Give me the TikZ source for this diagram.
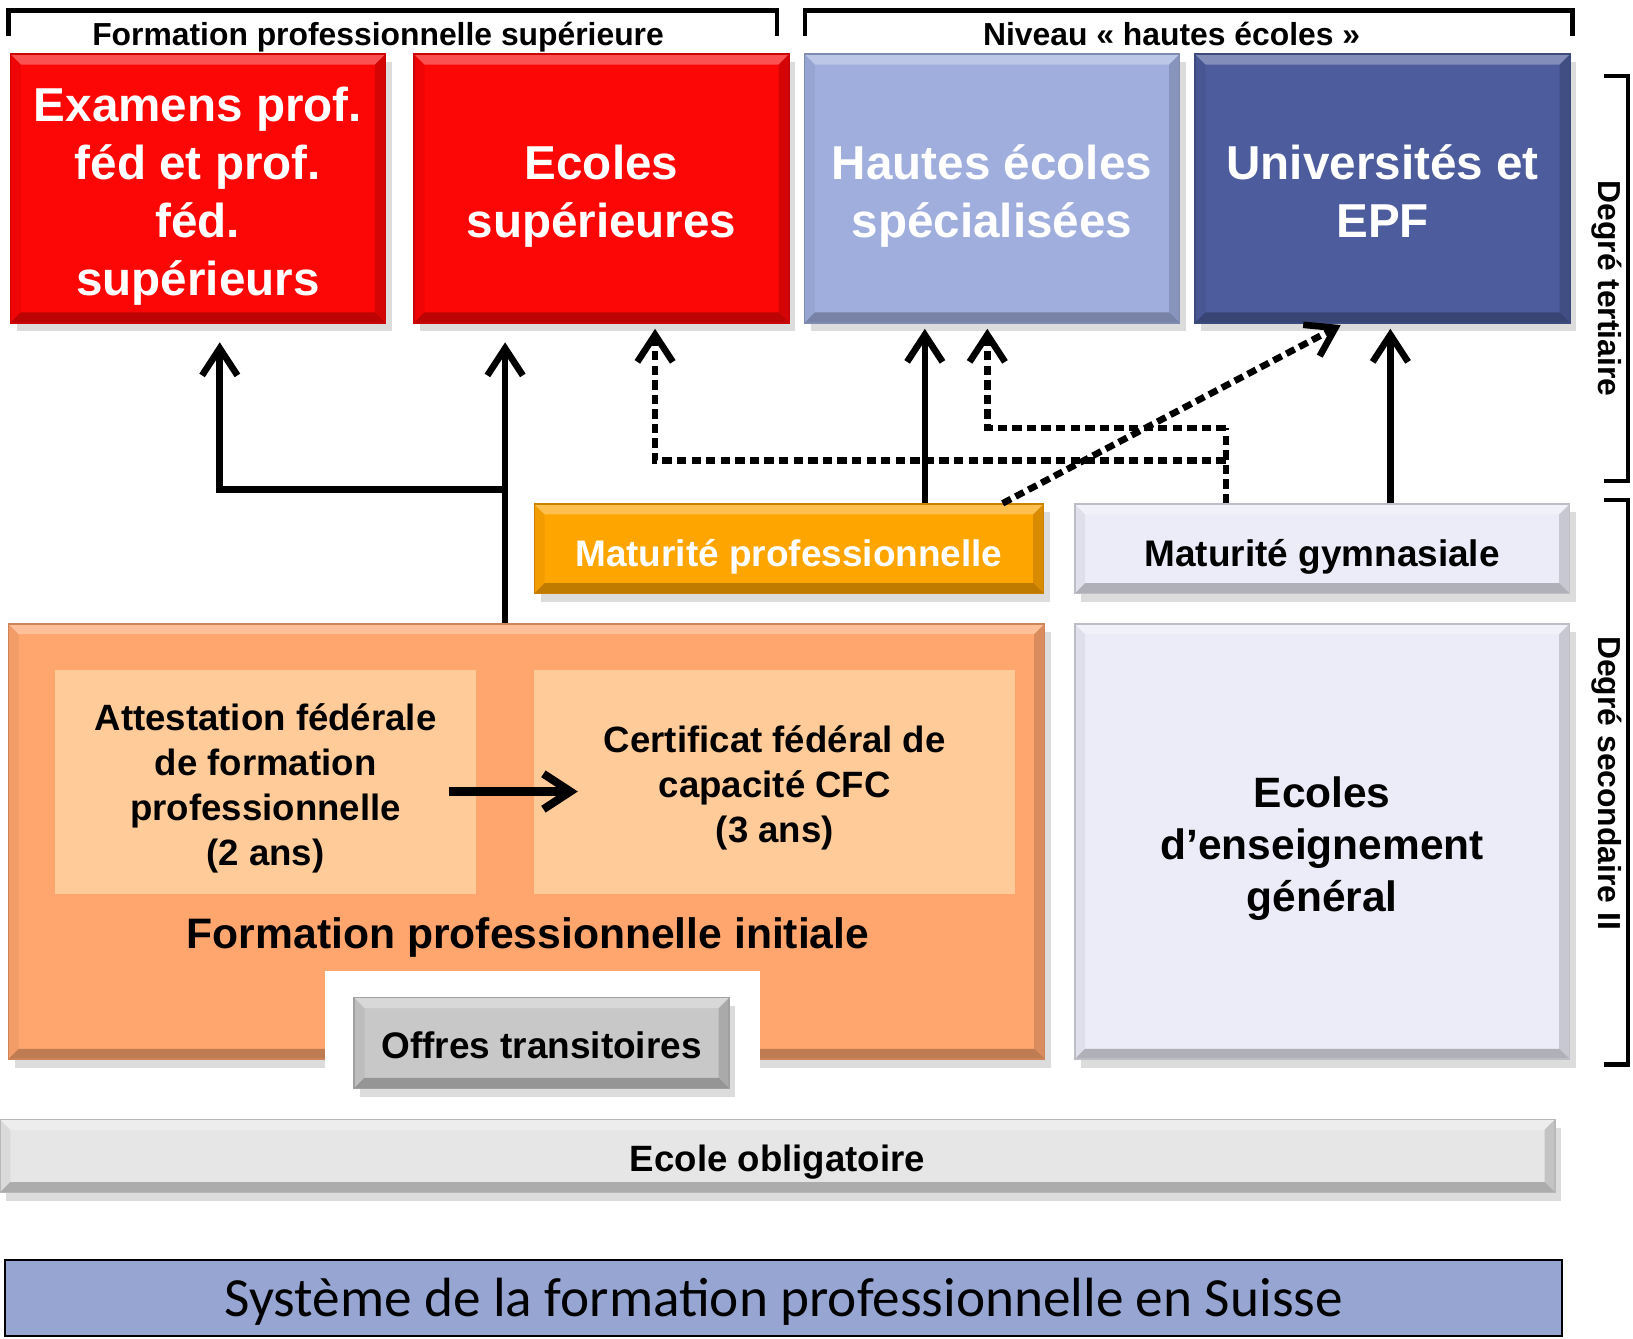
\documentclass[tikz,border=0pt]{standalone}
\usepackage{fontspec}
\setmainfont{Liberation Sans}
\newfontfamily\titlefont{Carlito}
\usetikzlibrary{%
  arrows.meta,%
  shadows,%
  calc%
}
\definecolor{fedred}{RGB}{252,6,6}
\definecolor{hesblue}{RGB}{160,174,222}
\definecolor{uniblue}{RGB}{76,92,156}
\definecolor{matorange}{RGB}{255,165,0}
\definecolor{gymlav}{RGB}{236,236,248}
\definecolor{fpisalmon}{RGB}{255,165,110}
\definecolor{fpipeach}{RGB}{255,204,153}
\definecolor{transgray}{RGB}{200,200,200}
\definecolor{obliggray}{RGB}{230,230,230}
\definecolor{titleblue}{RGB}{150,165,210}
\newcommand\boxtext[2][2pt]{\raisebox{-#1}[\height][\depth]{\begin{tabular}{@{}c@{}}#2\end{tabular}}}

\begin{document}
\begin{tikzpicture}
  [
  font=\bfseries, line width=1.8pt, >={Straight Barb[length=2.6mm,width=3.4mm]},
  bevel/.style={path picture={
    \path (path picture bounding box.north west) coordinate (bnw) (path picture bounding box.south east) coordinate (bse);
    \fill[white,opacity=.3] (bnw) -- (bnw -| bse) -- ++(-1mm,-1mm) -- ([shift={(1mm,-1mm)}]bnw) -- cycle;
    \fill[black,opacity=.25] (bse) -- (bse -| bnw) -- ++(1mm,1mm) -- ([shift={(-1mm,1mm)}]bse) -- cycle;
    \fill[black,opacity=.15] (bse) -- (bse |- bnw) -- ++(-1mm,-1mm) -- ([shift={(-1mm,1mm)}]bse) -- cycle;
    \fill[black,opacity=.05] (bnw) -- (bse -| bnw) -- ++(1mm,1mm) -- ([shift={(1mm,-1mm)}]bnw) -- cycle;}},
  box/.style={rectangle, inner sep=0pt, fill=#1, draw=#1!80!black, line width=0.4pt, bevel, drop shadow={shadow xshift=0.6mm, shadow yshift=-0.8mm, opacity=0.28}},
  school/.style={box=#1, minimum width=36mm, minimum height=25.8mm, text=white, font=\bfseries\fontsize{13}{15.85}\selectfont},
  maturity/.style={box=#1, minimum height=8.6mm, font=\bfseries\fontsize{10.1}{12}\selectfont},
  cert/.style={rectangle, inner sep=0pt, fill=fpipeach, minimum height=21.5mm, font=\bfseries\fontsize{10}{12.3}\selectfont},
  degree/.style={font=\bfseries\fontsize{8.7}{10}\selectfont},
  bracket/.style={line width=1.2pt},
  dotline/.style={line width=1.8pt, dash pattern=on 0.9mm off 0.5mm}
  ]

\useasboundingbox (0,0) rectangle (15.68,-12.85);

\foreach \n/\x/\c/\t in {exam/1.90/fedred/{Examens prof.\\féd et prof.\\féd.\\supérieurs}, ecsup/5.775/fedred/{Ecoles\\supérieures}, hes/9.525/hesblue/{Hautes écoles\\spécialisées}, univ/13.275/uniblue/{Universités et\\EPF}} {
  \node[school=\c] (\n) at (\x,-1.81) {\boxtext[2.2pt]{\t}};
}

\draw[bracket] (0.08,-0.35) |- (7.46,-0.10) -- (7.46,-0.35);
\draw[bracket] (7.73,-0.35) |- (15.10,-0.10) -- (15.10,-0.35);
\node[degree, anchor=base] (toplab1) at (3.63,-0.44) {Formation professionnelle supérieure};
\node[degree, anchor=base] (toplab2) at (11.25,-0.44) {Niveau « hautes écoles »};

\draw[bracket] (15.40,-0.73) -| (15.63,-4.62) -- (15.40,-4.62);
\draw[bracket] (15.40,-4.80) -| (15.63,-10.22) -- (15.40,-10.22);
\node[degree, rotate=-90] (tertiary) at (15.43,-2.77) {Degré tertiaire};
\node[degree, rotate=-90] (secondary) at (15.43,-7.52) {Degré secondaire II};

\node[maturity=matorange, minimum width=48.9mm, text=white] (matpro) at (7.575,-5.27) {\boxtext[2.5pt]{Maturité professionnelle}};
\node[maturity=gymlav, minimum width=47.5mm] (matgym) at (12.695,-5.27) {\boxtext[2.5pt]{Maturité gymnasiale}};

\node[box=fpisalmon, minimum width=99.5mm, minimum height=41.8mm] (fpi) at (5.055,-8.08) {};
\node[cert, minimum width=40.4mm] (afp) at (2.55,-7.505) {\boxtext[1.9pt]{Attestation fédérale\\de formation\\professionnelle\\(2 ans)}};
\node[cert, minimum width=46.2mm] (cfc) at (7.44,-7.505) {\boxtext[1.9pt]{Certificat fédéral de\\capacité CFC\\(3 ans)}};
\node[font=\bfseries\fontsize{11.65}{14}\selectfont] (fpilab) at (5.07,-8.96) {\boxtext[1.5pt]{Formation professionnelle initiale}};
\node[rectangle, fill=white, minimum width=41.8mm, minimum height=10.3mm] (gap) at (5.21,-9.835) {};
\node[box=transgray, minimum width=36mm, minimum height=8.7mm, font=\bfseries\fontsize{10.1}{12}\selectfont] (trans) at (5.20,-10.015) {\boxtext[1.9pt]{Offres transitoires}};

\node[box=gymlav, minimum width=47.5mm, minimum height=41.8mm, font=\bfseries\fontsize{11.6}{14.2}\selectfont] (eeg) at (12.695,-8.08) {\boxtext[2.2pt]{Ecoles\\d’enseignement\\général}};

\node[box=obliggray, minimum width=149.3mm, minimum height=7mm, font=\bfseries\fontsize{10}{12}\selectfont] (oblig) at (7.465,-11.10) {\boxtext[1.95pt]{Ecole obligatoire}};

\node[rectangle, inner sep=0pt, fill=titleblue, draw=black, line width=0.6pt, minimum width=149.5mm, minimum height=7.3mm, font=\titlefont\fontsize{15.1}{18}\selectfont] (title) at (7.525,-12.465) {\boxtext[1.3pt]{Système de la formation professionnelle en Suisse}};

\coordinate (c1) at (2.11,0);
\coordinate (c2) at (4.85,0);
\coordinate (c3) at (6.29,0);
\coordinate (c4) at (8.88,0);
\coordinate (c5) at (9.48,0);
\coordinate (c6) at (11.77,0);
\coordinate (c7) at (13.35,0);
\coordinate (c8) at (12.90,0);
\coordinate (j1) at (4.85,-4.70);
\coordinate (k1) at (11.77,-4.11);
\coordinate (k2) at (11.77,-4.42);

\draw[->, shorten >=1.8mm] (fpi.north -| c2) -- (ecsup.south -| c2);
\draw[->, shorten >=1.8mm] (j1) -| (exam.south -| c1);
\draw[->, shorten >=0.5mm] (matpro.north -| c4) -- (hes.south -| c4);
\draw[->, shorten >=0.5mm] (matgym.north -| c7) -- (univ.south -| c7);

\draw[dotline] (matgym.north -| c6) -- (k1);
\draw[dotline, ->, shorten >=0.5mm] (k1) -| (hes.south -| c5);
\draw[dotline, ->, shorten >=0.5mm] (k2) -| (ecsup.south -| c3);
\draw[dotline, ->, shorten >=0.3mm] ([xshift=-4mm]matpro.north east) -- (univ.south -| c8);

\draw[->, line width=2.2pt] ([xshift=-2.9mm,yshift=-0.95mm]afp.east) -- ([xshift=4.5mm,yshift=-0.95mm]cfc.west);
\end{tikzpicture}
\end{document}
